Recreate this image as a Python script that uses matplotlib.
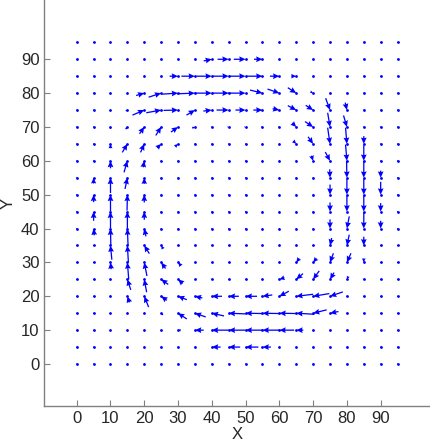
import numpy as np
import matplotlib
matplotlib.use("Agg")
import matplotlib.pyplot as plt

# grid positions (arrow heads sit on these points)
xs = list(range(0, 100, 5))
ys = list(range(0, 100, 5))

# U / V components, rows listed from y=95 (top) down to y=0, columns x=0..95
U_rows = [
    [0]*20,
    [0, 0, 0, 0, 0, 0, 0, 0, 2.4, 3.3, 3.5, 2.5, 0, 0, 0, 0, 0, 0, 0, 0],
    [0, 0, 0, 0, 0, 0.3, 2.5, 4.0, 4.5, 4.8, 5.0, 4.5, 2.8, 1.5, 0.3, 0, 0, 0, 0, 0],
    [0, 0, 0, 0, 2.4, 3.7, 4.7, 5.3, 5.2, 5.0, 5.3, 3.7, 3.5, 2.5, 0.8, 0.2, 0, 0, 0, 0],
    [0, 0, 0, 0.5, 3.5, 4.4, 4.3, 2.5, 2.5, 3.6, 3.0, 2.7, 2.0, 2.5, 2.2, 1.3, 0.5, 0, 0, 0],
    [0, 0, 0, 0.5, 1.4, 1.6, 2.1, 0.8, 0.3, 0.4, 0.4, 0.4, 0.4, 1.2, 2.4, 0.7, 1.0, 0, 0, 0],
    [0, 0, 0, 1.5, 1.1, 1.2, 0.9, 0.2, 0, 0, 0, 0, 0, 0.9, 1.5, 0.7, 0.4, 0, 0, 0],
    [0, 0, 0, 1.0, 0.3, 0.2, 0, 0, 0, 0, 0, 0, 0, 0, 0.5, 1.4, 0.4, 0, 0, 0],
    [0, 0, 0, 0.7, 0, 0, 0, 0, 0, 0, 0, 0, 0, 0, 0, 0.1, 0.1, 0, 0, 0],
    [0, 0, 0, 0.1, 0, 0, 0, 0, 0, 0, 0, 0, 0, 0, 0, 0, 0, 0, 0, 0],
    [0]*20,
    [0, -0.2, -0.1, -0.2, -0.5, -0.2, 0, 0, 0, 0, 0, 0, 0, 0, 0, 0, -0.7, 0, 0, 0],
    [0, 0, -0.4, -0.3, -1.5, -0.6, -0.2, 0, 0, 0, 0, 0, 0, 0, 0, -0.5, -0.7, 0, 0, 0],
    [0, 0, -0.2, -0.4, -0.8, -1.3, -0.9, 0, 0, 0, 0, 0, 0, -0.9, -1.0, -1.0, -1.2, 0, 0, 0],
    [0, 0, 0, -1.0, -0.7, -2.1, -1.4, -0.4, -0.3, -0.3, -0.3, 0, -1.5, -2.0, -1.8, -1.2, -0.4, 0, 0, 0],
    [0, 0, 0, -0.6, -1.3, -1.7, -2.6, -2.2, -3.0, -3.0, -3.4, -2.9, -2.8, -5.0, -4.8, -3.8, -0.3, 0, 0, 0],
    [0, 0, 0, 0, 0, -0.5, -2.6, -3.2, -3.6, -5.0, -5.3, -5.3, -5.3, -5.3, -4.0, -2.5, 0, 0, 0, 0],
    [0, 0, 0, 0, 0, 0, -0.8, -2.6, -5.0, -5.0, -5.3, -5.3, -4.4, -2.1, -0.3, 0, 0, 0, 0, 0],
    [0, 0, 0, 0, 0, 0, 0, 0, -2.6, -3.4, -3.8, -2.5, 0, 0, 0, 0, 0, 0, 0, 0],
    [0]*20,
]

V_rows = [
    [0]*20,
    [0, 0, 0, 0, 0, 0, 0, 0, 0.5, 0, 0, 0, 0, 0, 0, 0, 0, 0, 0, 0],
    [0]*20,
    [0, 0, 0, 0, 0.7, 1.2, 0.3, 0.2, 0, 0, 0, -0.9, -1.2, -1.6, -0.4, -0.3, 0, 0, 0, 0],
    [0, 0, 0, 0.2, 1.5, 0.8, 0.1, 1.5, 0.3, 0, 0, 0, -0.4, -1.3, -1.4, -3.5, -2.2, 0, 0, 0],
    [0, 0, 0.5, 0.6, 2.0, 2.5, 1.5, 0.3, 0, 0, 0, 0, 0, -1.2, -1.6, -4.2, -3.4, 0, 0, 0],
    [0, 0, 1.3, 2.5, 2.5, 1.2, 0.8, 0, 0, 0, 0, 0, 0, -0.9, -2.1, -4.8, -4.8, -2.3, 0, 0],
    [0, 0, 2.2, 3.4, 1.9, 0.2, 0, 0, 0, 0, 0, 0, 0, -0.3, -1.5, -2.6, -4.8, -4.6, 0, -0.3],
    [0, 1.7, 4.5, 3.3, 1.8, 0.2, 0, 0, 0, 0, 0, 0, 0, 0, -0.2, -2.5, -5.0, -5.0, -2.1, 0],
    [0, 2.2, 5.0, 4.7, 2.3, 0.2, 0, 0, 0, 0, 0, 0, 0, 0, -0.3, -3.0, -4.6, -4.6, -3.8, 0],
    [0, 2.7, 5.0, 5.0, 2.4, 0.2, 0, 0, 0, 0, 0, 0, 0, 0, -0.3, -2.7, -4.6, -4.8, -2.5, 0],
    [0, 2.0, 5.0, 5.0, 2.3, 0.3, 0, 0, 0, 0, 0, 0, 0, 0, -0.3, -2.7, -3.6, -4.8, -2.3, 0],
    [0, 0, 4.2, 5.0, 2.4, 1.0, 0.2, 0, 0, 0, 0, 0, 0, 0, -0.3, -2.2, -3.2, -2.6, 0, 0],
    [0, 0, 2.0, 5.0, 4.0, 1.8, 1.0, 0, 0, 0, 0, 0, 0, -1.2, -1.2, -2.7, -2.7, -1.2, 0, 0],
    [0, 0, 0.3, 3.1, 3.8, 1.5, 1.2, 0, 0, 0, 0, 0, -0.5, -1.7, -2.5, -2.0, -0.9, 0, 0, 0],
    [0, 0, 0, 1.8, 3.2, 1.2, 1.0, 0.5, 0, 0, 0, -0.4, -1.5, -0.6, -0.8, -1.3, 0, 0, 0, 0],
    [0, 0, 0, 0, 0.3, 0.5, 1.7, 1.1, 0.8, 0.2, 0.1, 0.1, 0.1, 0.3, -1.0, -0.5, 0, 0, 0, 0],
    [0]*20,
    [0]*20,
    [0]*20,
]

X, Y = np.meshgrid(xs, ys)
U = np.array(U_rows[::-1], dtype=float)
V = np.array(V_rows[::-1], dtype=float)

fig = plt.figure(figsize=(4.31, 4.44), dpi=100)
ax = fig.add_axes([44.3 / 431, 38 / 444, (431 - 44.3) / 431, 406 / 444])

ax.scatter(X, Y, s=4, color="#0000ff", linewidths=0, zorder=2)
ax.quiver(X, Y, U, V, angles="xy", scale_units="xy", scale=1, pivot="tip",
          color="#0000ff", width=0.0033, headwidth=4.5, headlength=5,
          headaxislength=4.5, zorder=3)

ax.set_xlim(-9.6, 104.9)
ax.set_ylim(-12.4, 107.5)
ax.set_xticks(range(0, 100, 10))
ax.set_yticks(range(0, 100, 10))

for s in ["top", "right"]:
    ax.spines[s].set_visible(False)
for s in ["left", "bottom"]:
    ax.spines[s].set_color("#808080")
    ax.spines[s].set_linewidth(1)
ax.tick_params(direction="in", length=4, color="#808080", labelcolor="#262626",
               labelsize=12)
for lab in ax.get_xticklabels() + ax.get_yticklabels():
    lab.set_family("Liberation Sans")
ax.set_xlabel("X", fontsize=12, color="#262626", family="Liberation Sans", labelpad=1)
ax.set_ylabel("Y", fontsize=12, color="#262626", family="Liberation Sans", labelpad=4)

fig.savefig("out.png", dpi=100)
